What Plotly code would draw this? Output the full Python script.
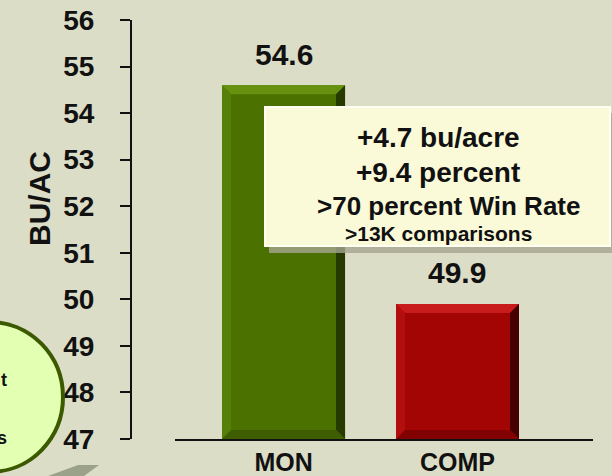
import plotly.graph_objects as go

# chart data
categories = ["MON", "COMP"]
yields = [54.6, 49.9]
bar_colors = ["#4B7100", "#A30505"]
y_ticks = [47, 48, 49, 50, 51, 52, 53, 54, 55, 56]
callout_lines = ["+4.7 bu/acre", "+9.4 percent", ">70 percent Win Rate", ">13K comparisons"]
bubble_tails = ["t", "s"]

W, H = 612, 476
TOP, BOTTOM = 20, 439          # pixel rows of the plot area
X_RANGE = [-0.624, 1.779]
Y_RANGE = [47, 56]
BAR_W = 0.707
FONT = "Liberation Sans, Arial, sans-serif"
BG = "#DCDDC7"


def px(x):
    # page pixel column -> paper x
    return x / W


def py(y):
    # page pixel row -> paper y
    return (BOTTOM - y) / (BOTTOM - TOP)


x_scale = (593 - 175) / (X_RANGE[1] - X_RANGE[0])
y_scale = (BOTTOM - TOP) / (Y_RANGE[1] - Y_RANGE[0])

fig = go.Figure()
fig.add_trace(go.Bar(
    x=list(range(len(categories))), y=yields, width=BAR_W,
    marker=dict(color=bar_colors, line=dict(width=0)),
    hoverinfo="x+y", showlegend=False,
))

shapes = []

# bevel edges on the bars
bevels = {
    0: dict(top="#66920F", left="#55800A", right="#263A00", bottom="#3E5E00"),
    1: dict(top="#C81C1C", left="#B20E0E", right="#470000", bottom="#820202"),
}
dx = 9 / x_scale
dy = 9 / y_scale
for i, v in enumerate(yields):
    x0, x1 = i - BAR_W / 2, i + BAR_W / 2
    b = Y_RANGE[0]
    faces = {
        "top": [(x0, v), (x1, v), (x1 - dx, v - dy), (x0 + dx, v - dy)],
        "left": [(x0, v), (x0 + dx, v - dy), (x0 + dx, b + dy), (x0, b)],
        "right": [(x1, v), (x1, b), (x1 - dx, b + dy), (x1 - dx, v - dy)],
        "bottom": [(x0, b), (x1, b), (x1 - dx, b + dy), (x0 + dx, b + dy)],
    }
    for name, pts in faces.items():
        path = "M " + " L ".join(f"{a},{c}" for a, c in pts) + " Z"
        shapes.append(dict(type="path", xref="x", yref="y", path=path,
                           fillcolor=bevels[i][name], line=dict(width=0), layer="above"))

# callout box with shadow
shapes.append(dict(type="rect", xref="paper", yref="paper",
                   x0=px(269), x1=px(612), y0=py(113), y1=py(253),
                   fillcolor="#A6A690", line=dict(width=0), opacity=0.8, layer="above"))
shapes.append(dict(type="rect", xref="paper", yref="paper",
                   x0=px(265), x1=px(610), y0=py(107), y1=py(246),
                   fillcolor="#FAFAD9", line=dict(color="#FFFFF2", width=2), layer="above"))

# bubble in the lower left corner
shapes.append(dict(type="circle", xref="paper", yref="paper",
                   x0=px(-83), x1=px(63), y0=py(322), y1=py(472),
                   fillcolor="#E3FFB2", line=dict(color="#3B5A00", width=4), layer="above"))

# grey arrow tip at bottom
shapes.append(dict(type="path", xref="paper", yref="paper",
                   path=f"M {px(48)},{py(476)} L {px(78)},{py(465)} L {px(99)},{py(465)} L {px(84)},{py(476)} Z",
                   fillcolor="#9AA28A", line=dict(width=0), layer="above"))

annotations = []
for i, v in enumerate(yields):
    annotations.append(dict(x=i, y=v, xref="x", yref="y", text=f"{v:.1f}",
                            showarrow=False, yanchor="middle", yshift=31,
                            font=dict(family=FONT, size=30, color="#111111", weight="bold")))

line_pos = [(438, 137, 28), (438, 172, 28), (449, 206, 26), (438, 234, 21)]
for txt, (cx, cy, fs) in zip(callout_lines, line_pos):
    annotations.append(dict(x=px(cx), y=py(cy), xref="paper", yref="paper", text=txt,
                            showarrow=False, xanchor="center", yanchor="middle",
                            font=dict(family=FONT, size=fs, color="#111111", weight="bold")))

for txt, cy in zip(bubble_tails, [380, 438]):
    annotations.append(dict(x=px(9), y=py(cy), xref="paper", yref="paper", text=txt,
                            showarrow=False, xanchor="right", yanchor="middle",
                            font=dict(family=FONT, size=18, color="#111111", weight="bold")))

annotations.append(dict(x=px(39), y=py(199), xref="paper", yref="paper", text="BU/AC",
                        textangle=-90, showarrow=False, xanchor="center", yanchor="middle",
                        font=dict(family=FONT, size=30, color="#111111", weight="bold")))

fig.update_layout(
    width=W, height=H,
    margin=dict(l=0, r=0, t=TOP, b=H - BOTTOM),
    paper_bgcolor=BG, plot_bgcolor=BG,
    shapes=shapes, annotations=annotations,
    xaxis=dict(domain=[px(175), px(593)], range=X_RANGE, automargin=False,
               tickvals=list(range(len(categories))), ticktext=categories,
               showline=True, linecolor="#111111", linewidth=2, ticks="",
               showgrid=False, zeroline=False, ticklabelstandoff=0,
               tickfont=dict(family=FONT, size=25, color="#111111", weight="bold")),
    yaxis=dict(range=Y_RANGE, tickvals=y_ticks, anchor="free", position=px(131),
               automargin=False,
               showline=True, linecolor="#111111", linewidth=2,
               ticks="outside", ticklen=10, tickwidth=2, tickcolor="#111111",
               showgrid=False, zeroline=False, ticklabelstandoff=20,
               tickfont=dict(family=FONT, size=28, color="#111111", weight="bold")),
)

# drop the browser's default body margin so the figure sits at the page corner
fig.write_html("out.html", config=dict(displayModeBar=False),
               post_script="document.body.style.margin='0';document.body.style.overflow='hidden';")
